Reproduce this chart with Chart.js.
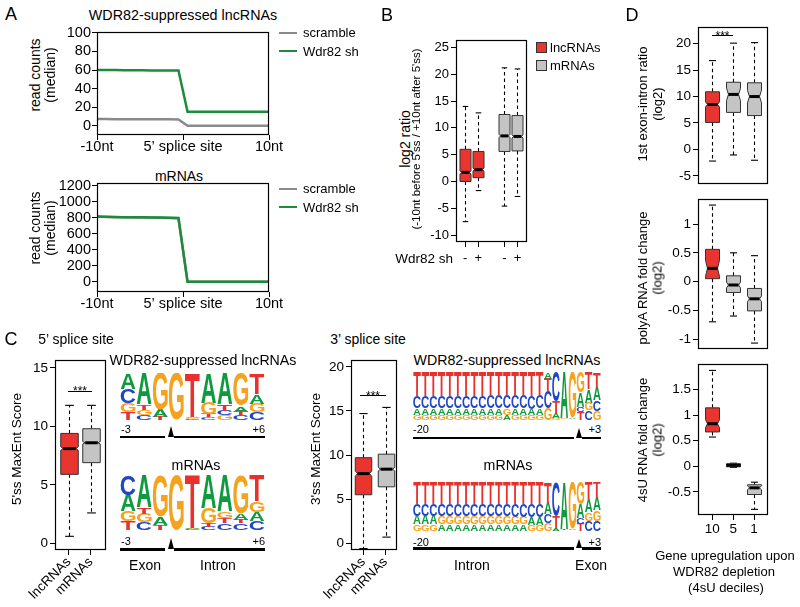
<!DOCTYPE html>
<html>
<head>
<meta charset="utf-8">
<script src="https://cdn.jsdelivr.net/npm/chart.js@4.4.0/dist/chart.umd.min.js"></script>
<style>
  body { margin: 0; width: 800px; height: 607px; position: relative; background: #fff; overflow: hidden;
         font-family: "Liberation Sans", Arial, Helvetica, sans-serif; color: #000; }
  canvas { position: absolute; }
</style>
</head>
<body>
<script>
// ---------- data ----------
// panel A: 20 positions around the 5' splice site
const aPos = [1, 2, 3, 4, 5, 6, 7, 8, 9, 10, 11, 12, 13, 14, 15, 16, 17, 18, 19, 20];
const aTicks = [1, 10.5, 20];
const aTickLabels = ['-10nt', '5\u2019 splice site', '10nt'];
const lncScramble = [7.2, 7.2, 7.1, 7.1, 7.0, 7.0, 7.0, 6.9, 6.9, 6.8, 0, 0, 0, 0, 0, 0, 0, 0, 0, 0];
const lncWdr82 = [60, 60, 60, 59.8, 59.8, 59.7, 59.6, 59.6, 59.5, 59.4, 15, 15, 15, 15, 15, 15, 15, 15, 15, 15];
const mScramble = [816, 812, 809, 808, 807, 806, 805, 803, 801, 798, 2, 2, 2, 2, 2, 2, 2, 2, 2, 2];
const mWdr82 = [818, 814, 811, 810, 809, 808, 807, 805, 803, 800, 4, 4, 4, 4, 4, 4, 4, 4, 4, 4];
const aTopTicks = [0, 20, 40, 60, 80, 100];
const aBotTicks = [0, 200, 400, 600, 800, 1000, 1200];

// panel B: log2 ratio boxes (lncRNA -, lncRNA +, mRNA -, mRNA +)
const bPos = [1, 2, 4, 5];
const bLabels = ['-', '+', '-', '+'];
const bLo = [-7.5, -1.7, -4.6, -2.8];
const bQ1 = [0, 0.7, 5.6, 5.7];
const bMed = [1.7, 2.2, 8.5, 8.4];
const bQ3 = [6.0, 5.6, 12.5, 12.3];
const bHi = [14.0, 12.8, 21.2, 21.0];
const bTicks = [-10, -5, 0, 5, 10, 15, 20, 25];

// panel C: MaxEnt scores
const cLabels = ['lncRNAs', 'mRNAs'];
const c5Lo = [0.6, 2.6], c5Q1 = [5.9, 6.9], c5Med = [8.1, 8.6], c5Q3 = [9.4, 9.8], c5Hi = [11.8, 11.8];
const c3Lo = [-0.6, 0.7], c3Q1 = [5.5, 6.4], c3Med = [7.9, 8.4], c3Q3 = [9.7, 10.1], c3Hi = [14.7, 15.4];
const c5Ticks = [0, 5, 10, 15];
const c3Ticks = [0, 5, 10, 15, 20];

// panel C: sequence logos (letters top to bottom, frequencies)
const logo5Pos = ['-3', '-2', '-1', '+1', '+2', '+3', '+4', '+5', '+6'];
const logo5LncLetters = ['ACGT', 'ATGC', 'GAT', 'G', 'TAGC', 'AGTC', 'ATCG', 'GATC', 'TAGC'];
const logo5LncFreq = [[.34, .30, .20, .16], [.67, .11, .12, .10], [.78, .15, .07], [1], [.94, .02, .02, .02],
  [.63, .24, .07, .06], [.66, .14, .10, .10], [.70, .12, .08, .10], [.45, .20, .18, .17]];
const logo5MLetters = ['CAGT', 'ATGC', 'GAT', 'G', 'TAGC', 'AGTC', 'AGTC', 'GATC', 'TGAC'];
const logo5MFreq = [[.36, .30, .18, .16], [.58, .12, .16, .14], [.75, .15, .10], [1], [.96, .02, .01, .01],
  [.60, .28, .06, .06], [.66, .12, .10, .12], [.70, .12, .06, .12], [.48, .20, .16, .16]];

const logo3Pos = ['-20', '-19', '-18', '-17', '-16', '-15', '-14', '-13', '-12', '-11', '-10', '-9', '-8', '-7',
  '-6', '-5', '-4', '-3', '-2', '-1', '+1', '+2', '+3'];
const logo3LncLetters = ['TCAG', 'TCAG', 'TCAG', 'TCAG', 'TCAG', 'TCAG', 'TCAG', 'TCAG', 'TCAG', 'TCAG', 'TCAG',
  'TCGA', 'TCAG', 'TCAG', 'TCAG', 'TCAG', 'ATCG', 'CTAG', 'AGTC', 'GATC', 'GACT', 'TAGC', 'TACG'];
const logo3LncFreq = [[.50, .25, .14, .11], [.50, .25, .14, .11], [.50, .25, .14, .11], [.50, .25, .14, .11],
  [.50, .25, .14, .11], [.50, .25, .14, .11], [.50, .25, .14, .11], [.50, .25, .14, .11], [.50, .25, .14, .11],
  [.50, .26, .13, .11], [.50, .26, .13, .11], [.50, .26, .13, .11], [.50, .26, .13, .11], [.50, .26, .13, .11],
  [.50, .27, .13, .10], [.48, .28, .14, .10], [.14, .26, .36, .24], [.62, .24, .10, .04], [.96, .02, .01, .01],
  [.96, .02, .01, .01], [.43, .30, .10, .17], [.36, .28, .16, .20], [.33, .26, .22, .19]];
const logo3MLetters = ['TCAG', 'TCAG', 'TCAG', 'TCGA', 'TCGA', 'TCGA', 'TCGA', 'TCGA', 'TCGA', 'TCGA', 'TCGA',
  'TCGA', 'TCGA', 'TCGA', 'TCAG', 'TCAG', 'TACG', 'CTA', 'ATGC', 'GATC', 'GACT', 'TAGC', 'TAGC'];
const logo3MFreq = [[.45, .24, .17, .14], [.45, .24, .17, .14], [.45, .24, .17, .14], [.45, .25, .16, .14],
  [.45, .25, .16, .14], [.45, .25, .16, .14], [.45, .25, .16, .14], [.45, .25, .16, .14], [.45, .25, .16, .14],
  [.45, .25, .16, .14], [.45, .25, .16, .14], [.45, .25, .16, .14], [.45, .26, .15, .14], [.45, .26, .15, .14],
  [.45, .26, .16, .13], [.44, .27, .16, .13], [.42, .24, .18, .16], [.70, .24, .06], [.96, .02, .01, .01],
  [.96, .02, .01, .01], [.45, .28, .12, .15], [.35, .27, .17, .21], [.33, .25, .22, .20]];

// panel D: deciles 10, 5, 1
const dLabels = ['10', '5', '1'];
const d1Lo = [-2.2, -1.05, -2.05], d1Q1 = [5.1, 7.0, 6.4], d1Med = [8.5, 10.4, 10.0], d1Q3 = [10.9, 12.7, 12.6], d1Hi = [16.8, 20.1, 20.2];
const d2Lo = [-0.70, -0.60, -1.07], d2Q1 = [0.05, -0.19, -0.51], d2Med = [0.23, -0.06, -0.30], d2Q3 = [0.56, 0.10, -0.12], d2Hi = [1.33, 0.50, 0.45];
const d3Lo = [0.57, -0.02, -0.84], d3Q1 = [0.67, -0.01, -0.55], d3Med = [0.83, 0.02, -0.42], d3Q3 = [1.14, 0.05, -0.36], d3Hi = [1.87, 0.06, -0.31];
const d1Ticks = [-5, 0, 5, 10, 15, 20];
const d2Ticks = [-1, -0.5, 0, 0.5, 1];
const d3Ticks = [-0.5, 0, 0.5, 1, 1.5];

// ---------- styles ----------
const RED = '#e8352f', GRAYBOX = '#c4c4c4', GRAYLINE = '#8a8a8a', GREEN = '#1e8a3c';
const letterColor = { A: '#109a3f', C: '#1f46c6', G: '#f5a21e', T: '#e8302c' };
Chart.defaults.font.family = '"Liberation Sans", Arial, Helvetica, sans-serif';
Chart.defaults.color = '#000';

// ---------- helpers ----------
function txt(s, x, y, size, align, rot) {
  const d = document.createElement('div');
  d.textContent = s;
  d.style.cssText = `position:absolute;left:${x}px;top:${y}px;font-size:${size}px;line-height:1;white-space:nowrap;`;
  const ax = align === 'left' ? '0' : align === 'right' ? '-100%' : '-50%';
  d.style.transform = `translate(${ax},-50%)` + (rot ? ` rotate(${rot}deg)` : '');
  document.body.appendChild(d);
}
function rect(x0, y0, x1, y1, col) {
  const d = document.createElement('div');
  d.style.cssText = `position:absolute;left:${x0}px;top:${y0}px;width:${x1 - x0}px;height:${y1 - y0}px;background:${col};`;
  document.body.appendChild(d);
  return d;
}
function arrow(cx, yTop, yBot) {
  const d = document.createElement('div');
  d.style.cssText = `position:absolute;left:${cx - 3}px;top:${yTop}px;width:0;height:0;border-left:3px solid transparent;border-right:3px solid transparent;border-bottom:${yBot - yTop}px solid #000;`;
  document.body.appendChild(d);
}

function yAxis(min, max, ticks, size, pad) {
  return {
    type: 'linear', min, max,
    afterBuildTicks: s => { s.ticks = ticks.map(v => ({ value: v })); },
    ticks: { font: { size, lineHeight: 1 }, padding: pad, autoSkip: false, callback: v => String(v) },
    grid: { drawOnChartArea: false, drawTicks: true, tickLength: 5, color: '#000' },
    border: { display: false }
  };
}
function xAxis(min, max, ticks, labels, size, pad, rot) {
  return {
    type: 'linear', min, max, offset: false,
    afterBuildTicks: s => { s.ticks = ticks.map(v => ({ value: v })); },
    ticks: { font: { size, lineHeight: 1 }, padding: pad, autoSkip: false, maxRotation: rot || 0, minRotation: rot || 0,
             callback: (v, i) => labels[i] },
    grid: { drawOnChartArea: false, drawTicks: true, tickLength: 5, color: '#000', offset: false },
    border: { display: false }
  };
}

const framePlugin = {
  id: 'frame',
  afterDraw(chart) {
    const a = chart.chartArea, ctx = chart.ctx;
    ctx.save();
    ctx.strokeStyle = '#000';
    ctx.lineWidth = 1.2;
    ctx.strokeRect(Math.round(a.left) + 0.5, Math.round(a.top) + 0.5, Math.round(a.right - a.left) - 1, Math.round(a.bottom - a.top) - 1);
    ctx.restore();
  }
};

function seg(ctx, x0, y0, x1, y1) { ctx.beginPath(); ctx.moveTo(x0, y0); ctx.lineTo(x1, y1); ctx.stroke(); }

// draws whiskers, (notched) boxes and medians on top of the invisible floating bars
const boxPlugin = {
  id: 'boxes',
  afterDatasetsDraw(chart) {
    const ds = chart.data.datasets[0], ctx = chart.ctx, ys = chart.scales.y;
    const Y = v => ys.getPixelForValue(v);
    chart.getDatasetMeta(0).data.forEach((bar, i) => {
      const x = Math.round(bar.x) + 0.5, hw = bar.width / 2;
      ctx.save();
      ctx.strokeStyle = '#000';
      ctx.lineWidth = 1.1;
      ctx.setLineDash([3.5, 3]);
      seg(ctx, x, Y(ds.q3[i]), x, Y(ds.hi[i]));
      seg(ctx, x, Y(ds.q1[i]), x, Y(ds.lo[i]));
      ctx.setLineDash([]);
      seg(ctx, x - hw / 2, Y(ds.hi[i]), x + hw / 2, Y(ds.hi[i]));
      seg(ctx, x - hw / 2, Y(ds.lo[i]), x + hw / 2, Y(ds.lo[i]));
      const nt = ds.notch[i], nw = nt > 0 ? hw * 0.72 : hw;
      const y1 = Y(ds.q1[i]), y3 = Y(ds.q3[i]), ym = Y(ds.med[i]);
      const ya = Y(ds.med[i] + nt), yb = Y(ds.med[i] - nt);
      ctx.beginPath();
      ctx.moveTo(x - hw, y3); ctx.lineTo(x + hw, y3); ctx.lineTo(x + hw, ya); ctx.lineTo(x + nw, ym);
      ctx.lineTo(x + hw, yb); ctx.lineTo(x + hw, y1); ctx.lineTo(x - hw, y1); ctx.lineTo(x - hw, yb);
      ctx.lineTo(x - nw, ym); ctx.lineTo(x - hw, ya); ctx.closePath();
      ctx.fillStyle = ds.colors[i];
      ctx.fill();
      ctx.lineWidth = 1;
      ctx.strokeStyle = '#333';
      ctx.stroke();
      ctx.lineWidth = 3;
      ctx.strokeStyle = '#000';
      seg(ctx, x - nw, ym, x + nw, ym);
      ctx.restore();
    });
  }
};

function drawGlyph(ctx, L, x, y, w, h) {
  ctx.save();
  ctx.font = 'bold 100px "Liberation Sans", Arial, sans-serif';
  const m = ctx.measureText(L);
  const gw = m.actualBoundingBoxLeft + m.actualBoundingBoxRight;
  const gh = m.actualBoundingBoxAscent + m.actualBoundingBoxDescent;
  ctx.translate(x, y);
  ctx.scale(w / gw, h / gh);
  ctx.fillStyle = letterColor[L];
  ctx.textAlign = 'left';
  ctx.textBaseline = 'alphabetic';
  ctx.fillText(L, m.actualBoundingBoxLeft, m.actualBoundingBoxAscent);
  ctx.restore();
}
const logoPlugin = {
  id: 'logo',
  afterDatasetsDraw(chart) {
    chart.data.datasets.forEach((ds, di) => {
      chart.getDatasetMeta(di).data.forEach((bar, i) => {
        const L = ds.letters[i];
        const h = Math.abs(bar.base - bar.y);
        if (!L || h < 0.4) return;
        const w = bar.width * 0.92;
        drawGlyph(chart.ctx, L, bar.x - w / 2, Math.min(bar.y, bar.base), w, h);
      });
    });
  }
};

function makeChart(r, m, cfg, xShown) {
  const c = document.createElement('canvas');
  const L = r[0] - m[0], T = r[1] - m[1];
  const W = r[2] + m[2] - L, H = r[3] + m[3] - T;
  c.width = W; c.height = H;
  Object.assign(c.style, { left: L + 'px', top: T + 'px', width: W + 'px', height: H + 'px' });
  document.body.appendChild(c);
  const o = cfg.options;
  const yShown = o.scales.y.display !== false;
  o.responsive = false;
  o.animation = false;
  o.devicePixelRatio = 1;
  o.layout = { padding: { left: yShown ? 0 : m[0], top: m[1], right: m[2], bottom: xShown ? 0 : m[3] } };
  o.plugins = { legend: { display: false }, tooltip: { enabled: false } };
  if (yShown) o.scales.y.afterFit = s => { s.width = m[0]; };
  if (xShown) o.scales.x.afterFit = s => { s.height = m[3]; };
  return new Chart(c, cfg);
}

function boxChart(r, m, xr, pos, xlabels, yr, yticks, st, colors, notch, barW, size, xShown, rot, xpad) {
  const x = xShown ? xAxis(xr[0], xr[1], pos, xlabels, size, xpad, rot) : { type: 'linear', min: xr[0], max: xr[1], display: false, offset: false };
  return makeChart(r, m, {
    type: 'bar',
    data: { datasets: [{
      data: pos.map((p, i) => ({ x: p, y: [st[1][i], st[3][i]] })),
      backgroundColor: 'rgba(0,0,0,0)', borderWidth: 0, barThickness: barW,
      lo: st[0], q1: st[1], med: st[2], q3: st[3], hi: st[4], notch, colors
    }] },
    options: { scales: { x, y: yAxis(yr[0], yr[1], yticks, size, 2) } },
    plugins: [boxPlugin, framePlugin]
  }, xShown);
}

function logoChart(r, pos, letters, freqs) {
  const sets = [];
  for (let k = 0; k < 4; k++) {
    const data = [], lets = [];
    letters.forEach((s, i) => {
      const j = s.length - 1 - k;
      data.push(j >= 0 ? freqs[i][j] : 0);
      lets.push(j >= 0 ? s[j] : '');
    });
    sets.push({ data, letters: lets, backgroundColor: 'rgba(0,0,0,0)', borderWidth: 0, barPercentage: 1, categoryPercentage: 1 });
  }
  return makeChart(r, [0, 0, 0, 0], {
    type: 'bar',
    data: { labels: pos, datasets: sets },
    options: { scales: {
      x: { stacked: true, display: false },
      y: { stacked: true, display: false, min: 0, max: 1 }
    } },
    plugins: [logoPlugin]
  }, false);
}

function lineChart(r, m, s1, s2, yr, yticks) {
  return makeChart(r, m, {
    type: 'line',
    data: { labels: aPos, datasets: [
      { data: s1, borderColor: GRAYLINE, borderWidth: 2.5, pointRadius: 0, tension: 0, order: 1 },
      { data: s2, borderColor: GREEN, borderWidth: 2.5, pointRadius: 0, tension: 0, order: 0 }
    ] },
    options: { scales: { x: xAxis(1, 20, aTicks, aTickLabels, 14.5, 0, 0), y: yAxis(yr[0], yr[1], yticks, 14.5, 1) } },
    plugins: [framePlugin]
  }, true);
}

// ---------- panel A ----------
txt('A', 11, 14, 18);
txt('WDR82-suppressed lncRNAs', 183, 15, 14.3);
lineChart([97, 32, 269, 135], [40, 10, 22, 25], lncScramble, lncWdr82, [-10, 101], aTopTicks);
txt('read counts', 35, 75, 14, 'center', -90);
txt('(median)', 50, 75, 14, 'center', -90);
txt('mRNAs', 179, 176, 14);
lineChart([97, 183, 269, 292], [45, 10, 22, 25], mScramble, mWdr82, [-125, 1237], aBotTicks);
txt('read counts', 35, 228, 14, 'center', -90);
txt('(median)', 50, 228, 14, 'center', -90);
rect(279, 31.5, 297, 34, GRAYLINE); txt('scramble', 303, 32, 13, 'left');
rect(279, 49.5, 297, 52, GREEN); txt('Wdr82 sh', 303, 51, 13, 'left');
rect(279, 187.5, 297, 190, GRAYLINE); txt('scramble', 303, 188, 13, 'left');
rect(279, 205.5, 297, 208, GREEN); txt('Wdr82 sh', 303, 207, 13, 'left');

// ---------- panel B ----------
txt('B', 387, 15, 18);
boxChart([456, 40, 527, 242], [40, 10, 12, 30], [0.295, 5.73], bPos, bLabels, [-11.3, 26.4], bTicks,
  [bLo, bQ1, bMed, bQ3, bHi], [RED, RED, GRAYBOX, GRAYBOX], [0.3, 0.3, 0.3, 0.3], 11, 13, true, 0, 5);
txt('log2 ratio', 405, 139, 14, 'center', -90);
txt('(-10nt before 5\'ss / +10nt after 5\'ss)', 417, 139, 11.5, 'center', -90);
txt('Wdr82 sh', 453, 259, 13.5, 'right');
const lg1 = rect(536, 42, 545, 51, RED); lg1.style.border = '0.8px solid #333';
txt('lncRNAs', 550, 47, 13, 'left');
const lg2 = rect(536, 60, 545, 69, GRAYBOX); lg2.style.border = '0.8px solid #333';
txt('mRNAs', 550, 65, 13, 'left');

// ---------- panel C ----------
txt('C', 11, 339, 18);
txt('5\u2019 splice site', 76, 339, 14);
boxChart([55, 359, 106, 550], [40, 8, 8, 55], [0.373, 2.69], [1, 2], cLabels, [-0.57, 15.7], c5Ticks,
  [c5Lo, c5Q1, c5Med, c5Q3, c5Hi], [RED, GRAYBOX], [0.15, 0.1], 17.5, 13.5, true, 45, 0);
txt('5\'ss MaxEnt Score', 17, 449, 13.5, 'center', -90);
rect(68, 390.5, 92, 391.5, '#000'); txt('***', 80, 391, 12);

txt('3\u2019 splice site', 368, 339, 14);
boxChart([351, 359, 397, 550], [40, 8, 8, 55], [0.44, 2.52], [1, 2], cLabels, [-0.76, 20.8], c3Ticks,
  [c3Lo, c3Q1, c3Med, c3Q3, c3Hi], [RED, GRAYBOX], [0.3, 0.2], 16.5, 13.5, true, 45, 0);
txt('3\'ss MaxEnt Score', 316, 449, 13.5, 'center', -90);
rect(360, 395, 386, 396, '#000'); txt('***', 373, 395.5, 12);

// 5' logos
txt('WDR82-suppressed lncRNAs', 203, 360, 14.2);
logoChart([120, 373, 265, 420], logo5Pos, logo5LncLetters, logo5LncFreq);
txt('-3', 121, 429, 11, 'left'); txt('+6', 265, 429, 11, 'right');
rect(120, 435.5, 165, 438, '#000'); arrow(171, 426, 437); rect(174, 435.5, 265, 438, '#000');
txt('mRNAs', 196, 465, 14.2);
logoChart([120, 475, 265, 530], logo5Pos, logo5MLetters, logo5MFreq);
txt('-3', 121, 541, 11, 'left'); txt('+6', 265, 541, 11, 'right');
rect(120, 548, 165, 550.5, '#000'); arrow(171, 538, 549); rect(174, 548, 265, 550.5, '#000');
txt('Exon', 145, 565, 14); txt('Intron', 218, 565, 14);

// 3' logos
txt('WDR82-suppressed lncRNAs', 507, 360, 14.2);
logoChart([413, 372, 601, 420], logo3Pos, logo3LncLetters, logo3LncFreq);
txt('-20', 413, 429, 11, 'left'); txt('+3', 601, 429, 11, 'right');
rect(413, 436.5, 574, 439, '#000'); arrow(579, 428, 438); rect(582, 436.5, 601, 439, '#000');
txt('mRNAs', 508, 465, 14.2);
logoChart([413, 482, 601, 531], logo3Pos, logo3MLetters, logo3MFreq);
txt('-20', 413, 541.5, 11, 'left'); txt('+3', 601, 541.5, 11, 'right');
rect(413, 547, 574, 549.5, '#000'); arrow(579, 539, 548.5); rect(582, 547, 601, 549.5, '#000');
txt('Intron', 472, 565, 14); txt('Exon', 591, 565, 14);

// ---------- panel D ----------
txt('D', 632, 15, 18);
boxChart([698, 26, 768, 184], [40, 8, 8, 8], [0.314, 3.67], [1, 2, 3], dLabels, [-6.4, 23.2], d1Ticks,
  [d1Lo, d1Q1, d1Med, d1Q3, d1Hi], [RED, GRAYBOX, GRAYBOX], [0.5, 1.2, 1.2], 14, 13.5, false);
txt('1st exon-intron ratio', 642, 104, 13, 'center', -90);
txt('(log2)', 657, 104, 13, 'center', -90);
rect(711.7, 35.2, 733.3, 36.2, '#000'); txt('***', 722.5, 36, 12);

boxChart([698, 198, 768, 349], [40, 8, 8, 8], [0.314, 3.67], [1, 2, 3], dLabels, [-1.16, 1.44], d2Ticks,
  [d2Lo, d2Q1, d2Med, d2Q3, d2Hi], [RED, GRAYBOX, GRAYBOX], [0.14, 0.05, 0.05], 14, 13.5, false);
txt('polyA RNA fold change', 642, 278, 13, 'center', -90);
txt('(log2)', 657, 278, 13, 'center', -90);

boxChart([698, 363, 768, 515], [40, 8, 8, 30], [0.314, 3.67], [1, 2, 3], dLabels, [-0.95, 2.0], d3Ticks,
  [d3Lo, d3Q1, d3Med, d3Q3, d3Hi], [RED, GRAYBOX, GRAYBOX], [0.08, 0, 0.04], 14, 13.5, true, 0, 3);
txt('4sU RNA fold change', 642, 440, 13, 'center', -90);
txt('(log2)', 657, 440, 13, 'center', -90);
txt('Gene upregulation upon', 725, 555, 13);
txt('WDR82 depletion', 724, 571, 13);
txt('(4sU deciles)', 726, 587, 13);
</script>
</body>
</html>
